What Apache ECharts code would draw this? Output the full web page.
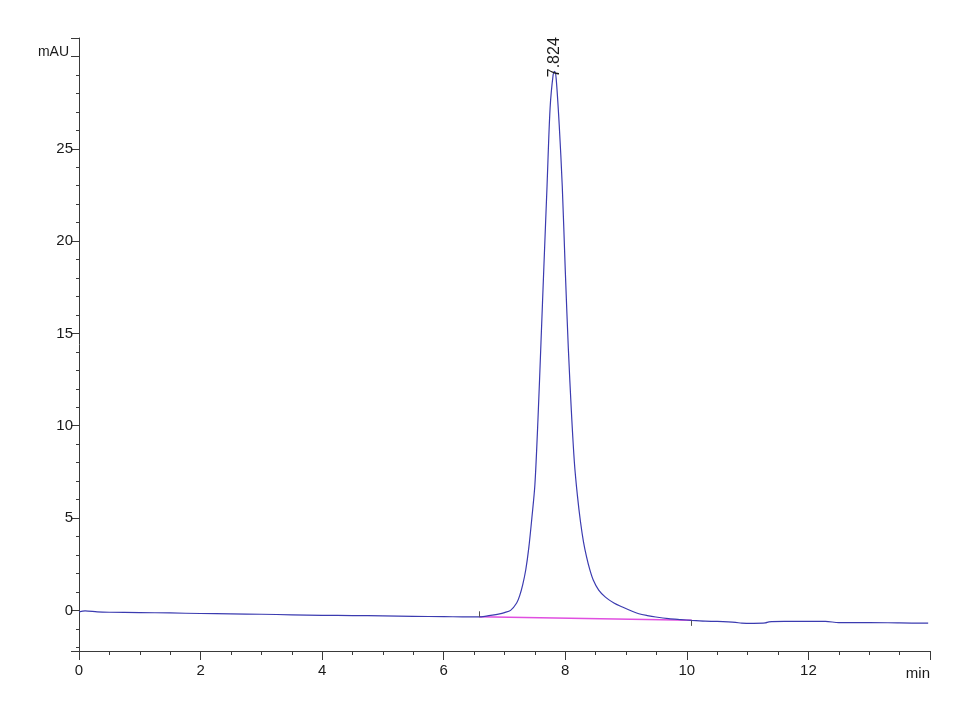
<!DOCTYPE html>
<html>
<head>
<meta charset="utf-8">
<script src="https://cdn.jsdelivr.net/npm/echarts@6/dist/echarts.min.js"></script>
<style>html,body{margin:0;padding:0;background:#fff;}#c{width:970px;height:711px;}</style>
</head>
<body>
<div id="c"></div>
<script>
// Retention time (min)
const retentionTimes = [0, 0.1, 0.3, 0.5, 1, 1.5, 2, 2.5, 3, 3.5, 4, 4.5, 5, 5.5, 6, 6.3, 6.58, 6.7, 6.8, 6.9, 7.0, 7.1, 7.2, 7.25, 7.3, 7.35, 7.4, 7.45, 7.5, 7.55, 7.6, 7.65, 7.7, 7.75, 7.8, 7.824, 7.85, 7.9, 7.95, 8.0, 8.05, 8.1, 8.15, 8.2, 8.25, 8.3, 8.35, 8.4, 8.46, 8.55, 8.66, 8.8, 8.94, 9.1, 9.21, 9.35, 9.49, 9.7, 9.9, 10.08, 10.3, 10.5, 10.8, 10.9, 11.1, 11.29, 11.35, 11.6, 12.0, 12.28, 12.5, 13.0, 13.5, 13.97];
// Detector signal (mAU)
const absorbance = [-0.08, -0.03, -0.08, -0.1, -0.12, -0.14, -0.17, -0.19, -0.21, -0.24, -0.27, -0.28, -0.3, -0.32, -0.34, -0.35, -0.35, -0.31, -0.26, -0.2, -0.12, 0.0, 0.4, 0.8, 1.4, 2.2, 3.4, 5.0, 6.8, 10.3, 14.5, 18.8, 23.0, 27.2, 29.0, 29.2, 28.8, 26.3, 23.0, 18.4, 14.2, 10.8, 8.0, 6.2, 4.8, 3.7, 2.9, 2.25, 1.65, 1.1, 0.72, 0.4, 0.18, -0.05, -0.18, -0.28, -0.36, -0.45, -0.5, -0.54, -0.58, -0.6, -0.65, -0.69, -0.7, -0.68, -0.62, -0.6, -0.6, -0.6, -0.66, -0.66, -0.68, -0.69];
// Integration baseline (start / end)
const baselineTimes = [6.58, 10.08];
const baselineValues = [-0.35, -0.54];
// Peak annotation
const peakTime = 7.824;
const peakHeight = 29.2;
const peakLabel = '7.824';

const traceData = retentionTimes.map((t, i) => [t, absorbance[i]]);
const baseData = baselineTimes.map((t, i) => [t, baselineValues[i]]);

const chart = echarts.init(document.getElementById('c'));
const axisColor = '#3a3a3a';
const FONT = '"Liberation Sans", Arial, sans-serif';
const txt = {color: '#1a1a1a', fontFamily: FONT, fontSize: 15};

chart.setOption({
  animation: false,
  backgroundColor: '#fff',
  grid: {left: 79, right: 40, top: 38, bottom: 60},
  xAxis: {
    type: 'value', min: 0, max: 14, interval: 2,
    axisLine: {onZero: false, lineStyle: {color: axisColor, width: 1}},
    axisTick: {show: true, length: 9, lineStyle: {color: axisColor}},
    minorTick: {show: true, splitNumber: 4, length: 4, lineStyle: {color: axisColor}},
    splitLine: {show: false},
    axisLabel: Object.assign({margin: 12, formatter: v => (v >= 14 ? '' : String(v))}, txt),
    name: 'min', nameLocation: 'end', nameGap: 0,
    nameTextStyle: Object.assign({align: 'right', verticalAlign: 'top', padding: [15, 0, 0, 0]}, txt)
  },
  yAxis: {
    type: 'value', min: -2.2, max: 31, splitNumber: 6, minInterval: 5, maxInterval: 5,
    axisLine: {show: true, lineStyle: {color: axisColor, width: 1}},
    axisTick: {show: true, length: 8, lineStyle: {color: axisColor}},
    minorTick: {show: true, splitNumber: 5, length: 3, lineStyle: {color: axisColor}},
    splitLine: {show: false},
    axisLabel: Object.assign({margin: 6, showMinLabel: false, showMaxLabel: false,
      formatter: v => (v === 30 ? '{u|mAU}' : (Number.isInteger(v) ? String(v) : '')),
      rich: {u: {fontFamily: FONT, fontSize: 14, color: '#1a1a1a', padding: [0, 4, 8, 0]}}
    }, txt)
  },
  series: [
    {
      type: 'line', data: baseData, symbol: 'none', silent: true,
      lineStyle: {color: '#e04fe0', width: 1.5}, z: 2
    },
    {
      type: 'line', data: traceData, symbol: 'none', smooth: 0.3, silent: true,
      lineStyle: {color: '#3b3bb0', width: 1.2}, z: 3,
      markLine: {
        silent: true, symbol: 'none', label: {show: false},
        lineStyle: {color: '#555', width: 1, type: 'solid'},
        data: [
          [{coord: [baselineTimes[0], baselineValues[0]]}, {coord: [baselineTimes[0], baselineValues[0] + 0.3]}],
          [{coord: [baselineTimes[1], baselineValues[1]]}, {coord: [baselineTimes[1], baselineValues[1] - 0.3]}]
        ]
      },
      markPoint: {
        symbol: 'circle', symbolSize: 0,
        data: [{coord: [peakTime, peakHeight], value: peakLabel}],
        label: {show: true, formatter: peakLabel, rotate: 90, position: 'top', distance: -6,
          align: 'left', verticalAlign: 'middle', color: '#1a1a1a',
          fontFamily: FONT, fontSize: 16}
      }
    }
  ]
});
</script>
</body>
</html>
